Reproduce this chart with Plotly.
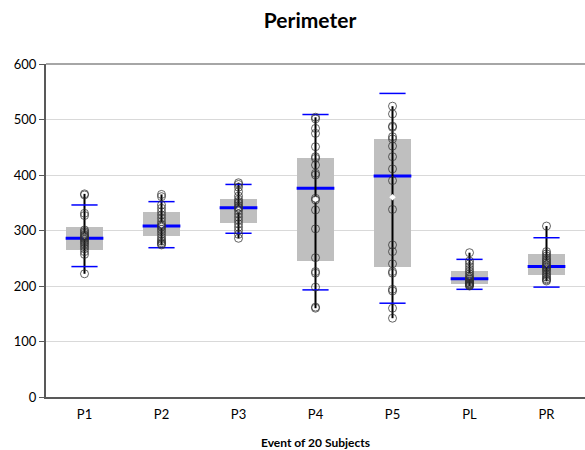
import plotly.graph_objects as go

categories = ["P1", "P2", "P3", "P4", "P5", "PL", "PR"]

# box statistics
q1 = [264, 290, 313, 245, 235, 203, 220]
median = [286, 308, 341, 376, 398, 213, 235]
q3 = [307, 333, 356, 430, 465, 227, 257]
cap_low = [235, 269, 295, 193, 169, 194, 198]
cap_high = [346, 352, 383, 509, 547, 248, 287]
means = [290, 310, 338, 356, 360, 218, 240]

# individual subjects (20 per event)
p1 = [366, 364, 331, 327, 301, 298, 295, 292, 290, 288, 286, 284, 281, 278, 275, 271, 267, 262, 257, 222]
p2 = [365, 361, 346, 340, 334, 328, 322, 316, 311, 308, 306, 302, 298, 293, 288, 284, 281, 278, 276, 274]
p3 = [386, 383, 378, 370, 362, 356, 352, 349, 345, 342, 340, 336, 330, 324, 318, 312, 306, 300, 293, 286]
p4 = [504, 501, 484, 475, 451, 433, 430, 418, 403, 400, 358, 355, 337, 303, 251, 226, 223, 198, 162, 160]
p5 = [524, 510, 488, 486, 469, 465, 452, 433, 411, 390, 338, 274, 262, 240, 226, 223, 194, 191, 160, 142]
pl = [260, 245, 240, 235, 230, 226, 222, 218, 215, 213, 212, 210, 208, 206, 205, 204, 203, 202, 201, 200]
pr = [308, 262, 258, 254, 250, 247, 244, 241, 238, 236, 234, 232, 229, 226, 222, 219, 216, 213, 211, 209]
subjects = [p1, p2, p3, p4, p5, pl, pr]

BOX_W = 0.49
CAP_W = 0.34
idx = list(range(len(categories)))

fig = go.Figure()

# grey boxes
fig.add_trace(go.Bar(
    x=idx, y=[b - a for a, b in zip(q1, q3)], base=q1, width=BOX_W,
    marker=dict(color="#bfbfbf", line=dict(width=0)), hoverinfo="skip",
))

# blue median lines
mx, my = [], []
for i, m in zip(idx, median):
    mx += [i - BOX_W / 2, i + BOX_W / 2, None]
    my += [m, m, None]
fig.add_trace(go.Scatter(x=mx, y=my, mode="lines", line=dict(color="#0000ff", width=3), hoverinfo="skip"))

# black range lines (min to max)
rx, ry = [], []
for i, vals in zip(idx, subjects):
    rx += [i, i, None]
    ry += [min(vals), max(vals), None]
fig.add_trace(go.Scatter(x=rx, y=ry, mode="lines", line=dict(color="#000000", width=2), hoverinfo="skip"))

# blue caps
cx, cy = [], []
for i, lo, hi in zip(idx, cap_low, cap_high):
    cx += [i - CAP_W / 2, i + CAP_W / 2, None, i - CAP_W / 2, i + CAP_W / 2, None]
    cy += [lo, lo, None, hi, hi, None]
fig.add_trace(go.Scatter(x=cx, y=cy, mode="lines", line=dict(color="#0000ff", width=1.5), hoverinfo="skip"))

# means
fig.add_trace(go.Scatter(
    x=idx, y=means, mode="markers",
    marker=dict(symbol="diamond", size=5, color="#ffffff", line=dict(width=0)),
))

# points
px, py = [], []
for i, vals in zip(idx, subjects):
    px += [i] * len(vals)
    py += vals
fig.add_trace(go.Scatter(
    x=px, y=py, mode="markers",
    marker=dict(symbol="circle-open", size=8, color="rgba(50,50,50,0.75)", line=dict(width=1)),
))

fig.add_shape(type="line", xref="paper", yref="paper", x0=0, x1=1, y0=1, y1=1,
              line=dict(color="#a6a6a6", width=2))

fig.update_layout(
    width=585, height=450,
    margin=dict(l=46, r=0, t=64, b=53),
    paper_bgcolor="white", plot_bgcolor="white",
    showlegend=False,
    font=dict(family="Lato, 'Liberation Sans', sans-serif", color="#000000", size=12),
    title=dict(text="<b>Perimeter</b>", x=0.53, xanchor="center", y=0.955, yanchor="middle",
               font=dict(size=21, family="Lato, sans-serif", color="#000000")),
    xaxis=dict(
        range=[-0.5, 6.5], tickvals=idx, ticktext=categories,
        showgrid=False, zeroline=False, showline=True, linecolor="#595959", linewidth=2,
        ticks="", tickfont=dict(size=13), ticklabelstandoff=4,
        title=dict(text="<b>Event of 20 Subjects</b>", font=dict(size=12), standoff=18),
    ),
    yaxis=dict(
        range=[0, 600], dtick=100, showgrid=True, gridcolor="#d9d9d9", gridwidth=1,
        zeroline=False, showline=True, linecolor="#595959", linewidth=2,
        ticks="outside", ticklen=5, tickcolor="#595959", tickfont=dict(size=13),
    ),
    bargap=0,
)

fig.write_html("out.html", config={"displayModeBar": False},
               post_script="document.body.style.margin='0';document.body.style.overflow='hidden';")
